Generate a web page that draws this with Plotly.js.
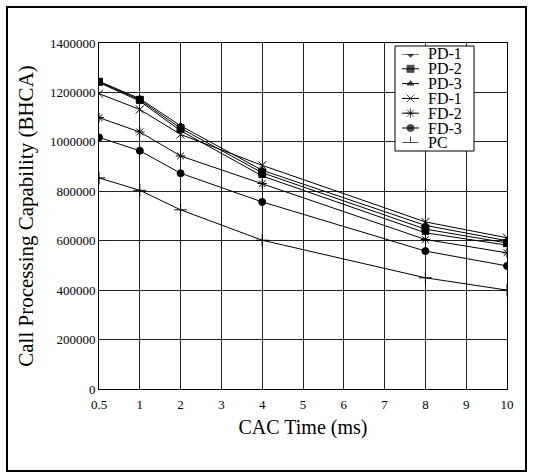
<!DOCTYPE html>
<html>
<head>
<meta charset="utf-8">
<script src="https://cdn.plot.ly/plotly-3.0.1.min.js"></script>
<style>
html,body{margin:0;padding:0;background:#fff;}
#chart{width:533px;height:473px;}
</style>
</head>
<body>
<div id="chart"></div>
<script>
const categories = ['0.5','1','2','3','4','5','6','7','8','9','10'];
const xPoints = ['0.5','1','2','4','8','10'];
const pd1 = [1245000, 1175000, 1065000, 885000, 662000, 600000];
const pd2 = [1243000, 1170000, 1055000, 875000, 647000, 591000];
const pd3 = [1240000, 1165000, 1045000, 862000, 632000, 582000];
const fd1 = [1195000, 1131000, 1030000, 905000, 676000, 612000];
const fd2 = [1098000, 1040000, 943000, 831000, 605000, 551000];
const fd3 = [1018000, 964000, 873000, 757000, 558000, 498000];
const pc  = [854000, 804000, 725000, 602000, 450000, 400000];
const seriesNames = ['PD-1','PD-2','PD-3','FD-1','FD-2','FD-3','PC'];

const seriesData = [pd1, pd2, pd3, fd1, fd2, fd3, pc];
const symbols = ['diamond','square','triangle-up','x-thin-open','asterisk-open','circle','cross-thin-open'];
const sizes = [5, 7, 6, 8, 8, 7, 9];

const font = "'Liberation Serif', 'Times New Roman', serif";

// plot-area geometry in pixels (for converting to paper coords)
const L = 99, R = 507, T = 43, B = 389;
const px = v => (v - L) / (R - L);
const py = v => (B - v) / (B - T);

// legend box geometry (pixels)
const legL = 395, legR = 474, legT = 46, legB = 151;
const legTop = 54, legStep = 14.8;

let supportsBetween = false;
try {
  const vals = Plotly.PlotSchema.get().layout.layoutAttributes.shapes.items.shape.layer.values;
  supportsBetween = vals.indexOf('between') >= 0;
} catch (e) { supportsBetween = false; }

const traces = seriesData.map((ys, i) => ({
  type: 'scatter',
  mode: 'lines+markers',
  name: seriesNames[i],
  x: xPoints,
  y: ys,
  showlegend: false,
  line: {color: '#000', width: 1},
  marker: {symbol: symbols[i], size: sizes[i], color: '#000', line: {color: '#000', width: 1}}
}));

// white legend panel on the auxiliary axes (fallback if 'between' layer unsupported)
const x2range = [0, 1];
const x2dom = [px(402), px(419)];
// auxiliary axis spans the full legend box so the panel can be drawn in its coordinates
const auxDomX = [px(legL), px(legR)];
const auxDomY = [py(legB), py(legT)];
if (!supportsBetween) {
  traces.push({
    type: 'scatter', mode: 'lines', xaxis: 'x3', yaxis: 'y3',
    x: [0, 1, 1, 0, 0], y: [0, 0, 1, 1, 0], fill: 'toself', fillcolor: '#fff',
    line: {color: '#000', width: 1}, showlegend: false, hoverinfo: 'skip'
  });
}

// compact legend: symbol samples drawn on a hidden auxiliary axis pair
seriesNames.forEach((name, i) => {
  traces.push({
    type: 'scatter', mode: 'lines+markers', xaxis: 'x2', yaxis: 'y2',
    x: [0, 0.5, 1], y: [i, i, i], showlegend: false, hoverinfo: 'skip',
    line: {color: '#000', width: 1},
    marker: {symbol: symbols[i], size: [0, sizes[i], 0], color: '#000', line: {color: '#000', width: 1}}
  });
});

const annotations = seriesNames.map((name, i) => ({
  xref: 'paper', yref: 'paper', x: px(426), y: py(legTop + i * legStep),
  xanchor: 'left', yanchor: 'middle', showarrow: false,
  text: name, font: {family: font, size: 16, color: '#000'}
}));

const shapes = [
  {
    type: 'rect', xref: 'paper', yref: 'paper',
    x0: px(7), x1: px(526), y0: py(471), y1: py(7),
    line: {color: '#000', width: 2}, fillcolor: 'rgba(0,0,0,0)', layer: 'below'
  }
];
if (supportsBetween) {
  const xc = v => (v - L) / (R - L) * 10;               // category index
  const yv = v => (B - v) / (B - T) * 1400000;          // data value
  shapes.push({
    type: 'rect', xref: 'x', yref: 'y',
    x0: xc(legL), x1: xc(legR), y0: yv(legB), y1: yv(legT),
    line: {color: '#000', width: 1}, fillcolor: '#fff', layer: 'between'
  });
}

const hidden = {visible: false, showgrid: false, zeroline: false, fixedrange: true};
const layout = {
  width: 533, height: 473,
  margin: {l: L, r: 533 - R, t: T, b: 473 - B},
  paper_bgcolor: '#fff', plot_bgcolor: '#fff',
  font: {family: font, color: '#000'},
  showlegend: false,
  xaxis: {
    type: 'category', categoryorder: 'array', categoryarray: categories,
    range: [0, 10],
    showgrid: true, gridcolor: '#222', gridwidth: 1,
    showline: true, linecolor: '#000', linewidth: 1, mirror: true,
    ticks: 'outside', ticklen: 3, tickcolor: 'rgba(0,0,0,0)',
    tickfont: {family: font, size: 13, color: '#000'},
    title: {text: 'CAC Time (ms)', font: {family: font, size: 20, color: '#000'}, standoff: 9},
    zeroline: false
  },
  yaxis: {
    range: [0, 1400000], dtick: 200000, tick0: 0,
    tickformat: 'd',
    showgrid: true, gridcolor: '#222', gridwidth: 1,
    showline: true, linecolor: '#000', linewidth: 1, mirror: true,
    ticks: '', tickfont: {family: font, size: 13, color: '#000'},
    title: {text: 'Call Processing Capability (BHCA)', font: {family: font, size: 21, color: '#000'}, standoff: 10},
    zeroline: false
  },
  xaxis2: Object.assign({domain: x2dom, range: x2range, anchor: 'y2'}, hidden),
  yaxis2: Object.assign({domain: [py(legTop + 6 * legStep), py(legTop)], range: [6, 0], anchor: 'x2'}, hidden),
  xaxis3: Object.assign({domain: auxDomX, range: [0, 1], anchor: 'y3'}, hidden),
  yaxis3: Object.assign({domain: auxDomY, range: [0, 1], anchor: 'x3'}, hidden),
  annotations: annotations,
  shapes: shapes
};

Plotly.newPlot('chart', traces, layout, {displayModeBar: false, staticPlot: true});
</script>
</body>
</html>
